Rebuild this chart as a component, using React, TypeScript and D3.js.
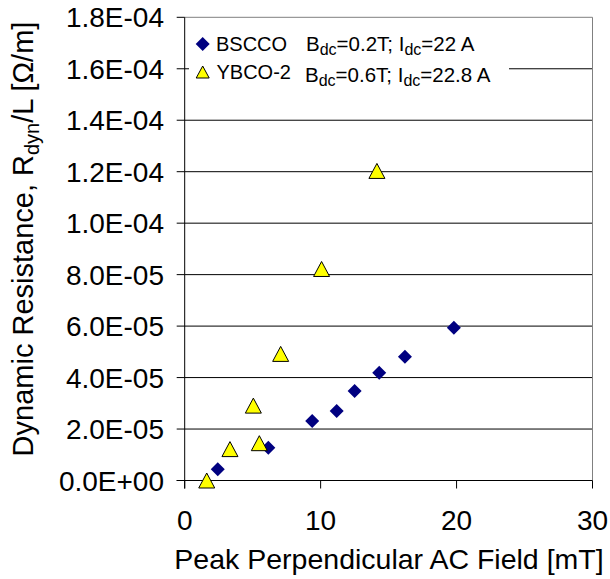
import React from 'react';
import * as d3 from 'd3';

const bsccoX = [2.43, 6.15, 9.38, 11.18, 12.5, 14.31, 16.2, 19.8];
const bsccoY = [4.4e-6, 1.27e-5, 2.31e-5, 2.7e-5, 3.48e-5, 4.19e-5, 4.81e-5, 5.94e-5];
const ybcoX = [1.62, 3.33, 5.49, 5.05, 7.06, 10.07, 14.14];
const ybcoY = [0, 1.22e-5, 1.45e-5, 2.91e-5, 4.92e-5, 8.22e-5, 1.203e-4];
const xTicks = [0, 10, 20, 30];
const yTicks = [0, 2e-5, 4e-5, 6e-5, 8e-5, 1e-4, 1.2e-4, 1.4e-4, 1.6e-4, 1.8e-4];
const yTickLabels = ['0.0E+00', '2.0E-05', '4.0E-05', '6.0E-05', '8.0E-05', '1.0E-04', '1.2E-04', '1.4E-04', '1.6E-04', '1.8E-04'];

const FONT = "'Liberation Sans', Arial, sans-serif";

function diamond(r: number) {
  return `M0,${-r}L${r},0L0,${r}L${-r},0Z`;
}
function triangle(w: number, h: number) {
  return `M0,${-h / 2}L${w / 2},${h / 2}L${-w / 2},${h / 2}Z`;
}

export default function App() {
  const x = d3.scaleLinear().domain([0, 30]).range([184.7, 592.5]);
  const y = d3.scaleLinear().domain([0, 1.8e-4]).range([480.5, 17.3]);
  const x0 = x(0), x1 = x(30), y0 = y(0), y1 = y(1.8e-4);
  return (
    <svg width={610} height={579} style={{ position: 'absolute', left: 0, top: 0, background: '#fff' }} fontFamily={FONT}>
      <rect x={0} y={0} width={610} height={579} fill="#fff" />
      {/* gridlines */}
      {yTicks.slice(1, -1).map((t) => (
        <line key={'g' + t} x1={x0} x2={x1} y1={y(t)} y2={y(t)} stroke="#000" strokeWidth={1} />
      ))}
      {/* border */}
      <line x1={x0} x2={x1} y1={y1} y2={y1} stroke="#808080" strokeWidth={1} />
      <line x1={x1} x2={x1} y1={y1} y2={y0} stroke="#808080" strokeWidth={1} />
      {/* axes */}
      <line x1={x0} x2={x0} y1={y1} y2={y0 + 8} stroke="#000" strokeWidth={1} />
      <line x1={x0 - 8} x2={x1} y1={y0} y2={y0} stroke="#000" strokeWidth={1} />
      {yTicks.map((t, i) => (
        <g key={'y' + t}>
          <line x1={x0 - 8} x2={x0} y1={y(t)} y2={y(t)} stroke="#000" />
          <text x={164} y={y(t) + 10} fontSize={28} textAnchor="end" fill="#000">{yTickLabels[i]}</text>
        </g>
      ))}
      {xTicks.map((t) => (
        <g key={'x' + t}>
          <line x1={x(t)} x2={x(t)} y1={y0} y2={y0 + 8} stroke="#000" />
          <text x={x(t)} y={530} fontSize={28} textAnchor="middle" fill="#000">{t}</text>
        </g>
      ))}
      {/* axis titles */}
      <text x={389} y={569} fontSize={28.5} textAnchor="middle" fill="#000">Peak Perpendicular AC Field [mT]</text>
      <text transform={`translate(33,239) rotate(-90)`} fontSize={29} textAnchor="middle" fill="#000">
        Dynamic Resistance, R<tspan fontSize={20} dy={6}>dyn</tspan><tspan dy={-6}>/L [Ω/m]</tspan>
      </text>
      {/* legend background */}
      <rect x={189} y={24} width={320} height={64} fill="#fff" />
      {/* data */}
      {bsccoX.map((v, i) => (
        <path key={'b' + i} d={diamond(7)} transform={`translate(${x(v)},${y(bsccoY[i])})`} fill="#000080" />
      ))}
      {ybcoX.map((v, i) => (
        <path key={'t' + i} d={triangle(16, 15)} transform={`translate(${x(v)},${y(ybcoY[i])})`} fill="#ffff00" stroke="#000" strokeWidth={1} />
      ))}
      {/* legend */}
      <path d={diamond(7)} transform="translate(202.7,44)" fill="#000080" />
      <path d={triangle(13, 12)} transform="translate(202.7,72)" fill="#ffff00" stroke="#000" strokeWidth={1} />
      <text x={216} y={50.5} fontSize={20} fill="#000">BSCCO</text>
      <text x={216.5} y={78.5} fontSize={20} fill="#000">YBCO-2</text>
      <text x={306} y={50.5} fontSize={20.5} fill="#000">
        B<tspan fontSize={16} dy={4}>dc</tspan><tspan dy={-4}>=0.2T; I</tspan><tspan fontSize={16} dy={4}>dc</tspan><tspan dy={-4}>=22 A</tspan>
      </text>
      <text x={305} y={82} fontSize={20.5} fill="#000">
        B<tspan fontSize={16} dy={4}>dc</tspan><tspan dy={-4}>=0.6T; I</tspan><tspan fontSize={16} dy={4}>dc</tspan><tspan dy={-4}>=22.8 A</tspan>
      </text>
    </svg>
  );
}
